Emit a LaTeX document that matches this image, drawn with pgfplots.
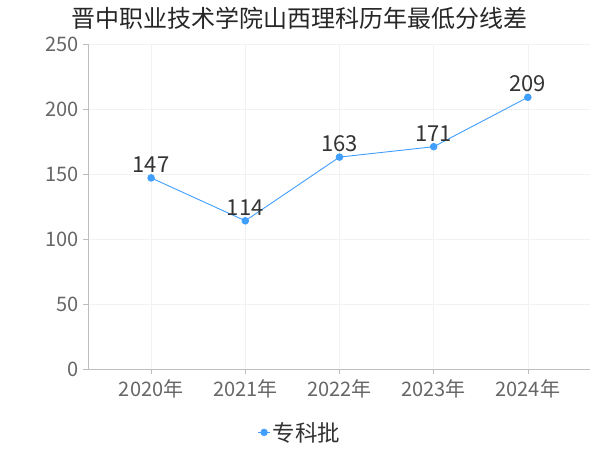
\documentclass[border=0pt]{standalone}
\usepackage{pgfplots}
\pgfplotsset{compat=1.18}
\usepackage{fontspec}
\setmainfont{Noto Sans CJK SC}
\definecolor{linec}{RGB}{64,158,255}
\definecolor{tickc}{RGB}{102,102,102}
\definecolor{labc}{RGB}{51,51,51}
\definecolor{gridc}{RGB}{242,242,242}
\definecolor{axc}{RGB}{190,190,190}
\begin{document}
\begin{tikzpicture}
\begin{axis}[
    scale only axis,
    width=502pt, height=325pt,
    xmin=-0.67, xmax=4.66,
    ymin=0, ymax=250,
    xtick=data,
    xticklabels={2020年,2021年,2022年,2023年,2024年},
    ytick={0,50,...,250},
    /pgf/number format/assume math mode=true,
    tick label style={font=\fontsize{20}{22}\selectfont, text=tickc},
    axis x line*=bottom, axis y line*=left,
    axis line style={axc, -},
    tick style={axc, line width=0.6pt},
    tick align=outside,
    major tick length=5pt,
    grid=major,
    major grid style={gridc, line width=0.6pt},
    xticklabel style={yshift=-2pt},
    yticklabel style={xshift=-1pt},
    legend style={draw=none, at={(0.422,-0.195)}, anchor=center,
        font=\fontsize{22.5}{24}\selectfont, text=labc},
    legend image code/.code={
        \draw[linec, line width=1pt] (0pt,0pt) -- (12pt,0pt);
        \fill[linec] (6pt,0pt) circle (3.2pt);
    },
    nodes near coords,
    every node near coord/.append style={font=\fontsize{22}{24}\selectfont,
        text=labc, anchor=south, inner sep=1pt, yshift=4pt},
]
\addplot[linec, line width=0.9pt, mark=*, mark size=3.3pt, mark options={fill=linec, draw=linec}]
    coordinates {(0,147) (1,114) (2,163) (3,171) (4,209)};
\addlegendentry{专科批}
\coordinate (o) at (rel axis cs:0,0);
\end{axis}
\node[font=\fontsize{24}{26}\selectfont, text=black!85] at ([shift={(212pt,351pt)}]o) {晋中职业技术学院山西理科历年最低分线差};
\path[use as bounding box] ([shift={(-88pt,-81pt)}]o) rectangle ++(600pt,450pt);
\end{tikzpicture}
\end{document}
